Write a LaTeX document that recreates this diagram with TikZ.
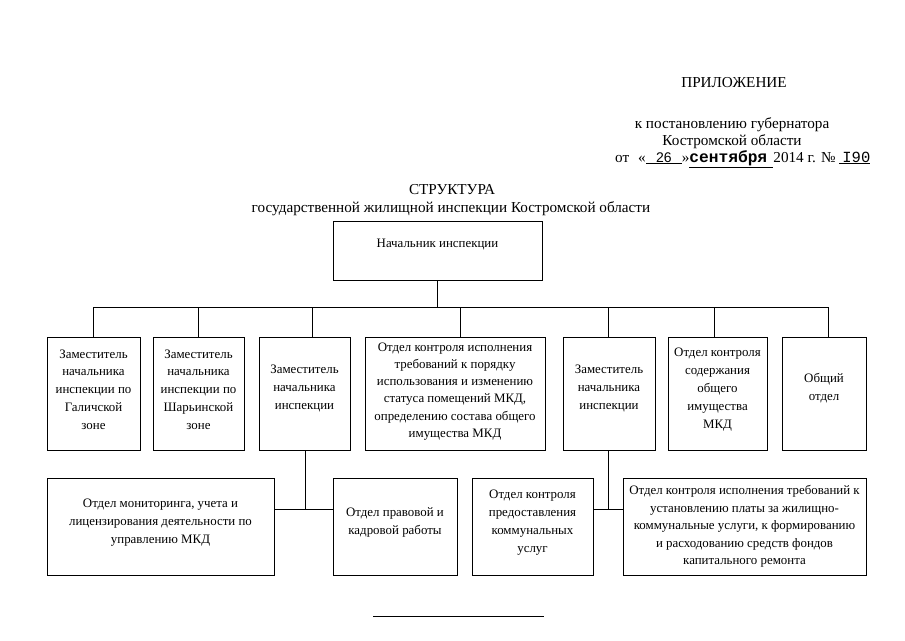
\documentclass[tikz,border=0pt]{standalone}
\usepackage{fontspec}
\setmainfont{Liberation Serif}
\newfontfamily\monof{Liberation Mono}
\newfontfamily\sansf{Liberation Sans}
\newcommand\bodyf{\fontsize{12.9}{17.8}\selectfont}
\newcommand\headf{\fontsize{15.2}{17.5}\selectfont}
\tikzset{
  box/.style={draw, line width=0.9pt, inner sep=0pt},
  txt/.style={align=center, font=\bodyf, inner sep=0pt},
  conn/.style={line width=0.9pt}
}
\begin{document}
\begin{tikzpicture}[x=1pt,y=-1pt]
\useasboundingbox (0,0) rectangle (905,640);
% header
\node[font=\headf] (appx) at (734,83) {ПРИЛОЖЕНИЕ};
\node[txt, font=\headf, align=center] (decree) at (732,133) {к постановлению губернатора\\Костромской области};
\node[font=\headf, anchor=base west, inner sep=0pt] (date) at (615,162)
 {от\hspace{9pt}«\underline{\makebox[36pt]{\sansf\fontsize{14}{16}\selectfont 26}}»\underline{\makebox[84pt][l]{\monof\bfseries\fontsize{16.2}{17}\selectfont сентября}}2014 г. № \underline{\makebox[31pt][r]{\monof\fontsize{15.5}{17}\selectfont I90}}};
% title
\node[font=\headf] (title) at (452,190) {СТРУКТУРА};
\node[font=\headf] (subtitle) at (451,209) {государственной жилищной инспекции Костромской области};
% head
\node[box, minimum width=209pt, minimum height=59pt] (head) at (437.5,250.5) {};
\node[txt] at ([yshift=6pt]head.center) {Начальник инспекции};
% top row
\node[box, minimum width=93pt, minimum height=113pt] (b1) at (93.5,393.5) {};
\node[box, minimum width=91pt, minimum height=113pt] (b2) at (198.5,393.5) {};
\node[box, minimum width=91pt, minimum height=113pt] (b3) at (304.5,393.5) {};
\node[box, minimum width=180pt, minimum height=113pt] (b4) at (455,393.5) {};
\node[box, minimum width=92pt, minimum height=113pt] (b5) at (609,393.5) {};
\node[box, minimum width=99pt, minimum height=113pt] (b6) at (717.5,393.5) {};
\node[box, minimum width=84pt, minimum height=113pt] (b7) at (824,393.5) {};
\node[txt] at ([yshift=4pt]b1.center) {Заместитель\\начальника\\инспекции по\\Галичской\\зоне};
\node[txt] at ([yshift=4pt]b2.center) {Заместитель\\начальника\\инспекции по\\Шарьинской\\зоне};
\node[txt] at ([yshift=5pt]b3.center) {Заместитель\\начальника\\инспекции};
\node[txt, font=\fontsize{12.9}{17.2}\selectfont] at ([yshift=2pt]b4.center) {Отдел контроля исполнения\\требований к порядку\\использования и изменению\\статуса помещений МКД,\\определению состава общего\\имущества МКД};
\node[txt] at ([yshift=5pt]b5.center) {Заместитель\\начальника\\инспекции};
\node[txt] at ([yshift=4pt]b6.center) {Отдел контроля\\содержания\\общего\\имущества\\МКД};
\node[txt] at ([yshift=5pt]b7.center) {Общий\\отдел};
% bottom row
\node[box, minimum width=227pt, minimum height=97pt] (ba) at (160.5,526.5) {};
\node[box, minimum width=124pt, minimum height=97pt] (bb) at (395,526.5) {};
\node[box, minimum width=121pt, minimum height=97pt] (bc) at (532.5,526.5) {};
\node[box, minimum width=243pt, minimum height=97pt] (bd) at (744.5,526.5) {};
\node[txt] at ([yshift=4pt]ba.center) {Отдел мониторинга, учета и\\лицензирования деятельности по\\управлению МКД};
\node[txt] at ([yshift=4pt]bb.center) {Отдел правовой и\\кадровой работы};
\node[txt] at ([yshift=4pt]bc.center) {Отдел контроля\\предоставления\\коммунальных\\услуг};
\node[txt, font=\fontsize{12.9}{17.5}\selectfont] at (bd.center) {Отдел контроля исполнения требований к\\установлению платы за жилищно-\\коммунальные услуги, к формированию\\и расходованию средств фондов\\капитального ремонта};
% bus
\coordinate (busL) at (93,307);
\coordinate (busR) at (828,307);
\coordinate (t1) at (93,307);
\coordinate (t2) at (198,307);
\coordinate (t3) at (312,307);
\coordinate (t4) at (460,307);
\coordinate (t5) at (608,307);
\coordinate (t6) at (714,307);
\coordinate (t7) at (828,307);
\draw[conn] (head.south) -- (head.south |- busL);
\draw[conn] (busL) -- (busR);
\foreach \i in {1,...,7} { \draw[conn] (t\i) -- (t\i |- b\i.north); }
% lower connectors
\coordinate (j1) at (305,509);
\coordinate (j2) at (608,509);
\draw[conn] (j1 |- b3.south) -- (j1);
\draw[conn] (j1 -| ba.east) -- (j1 -| bb.west);
\draw[conn] (j2 |- b5.south) -- (j2);
\draw[conn] (j2 -| bc.east) -- (j2 -| bd.west);
% separator
\coordinate (sepL) at (373,616);
\coordinate (sepR) at (544,616);
\draw[line width=0.8pt] (sepL) -- (sepR);
\end{tikzpicture}
\end{document}
